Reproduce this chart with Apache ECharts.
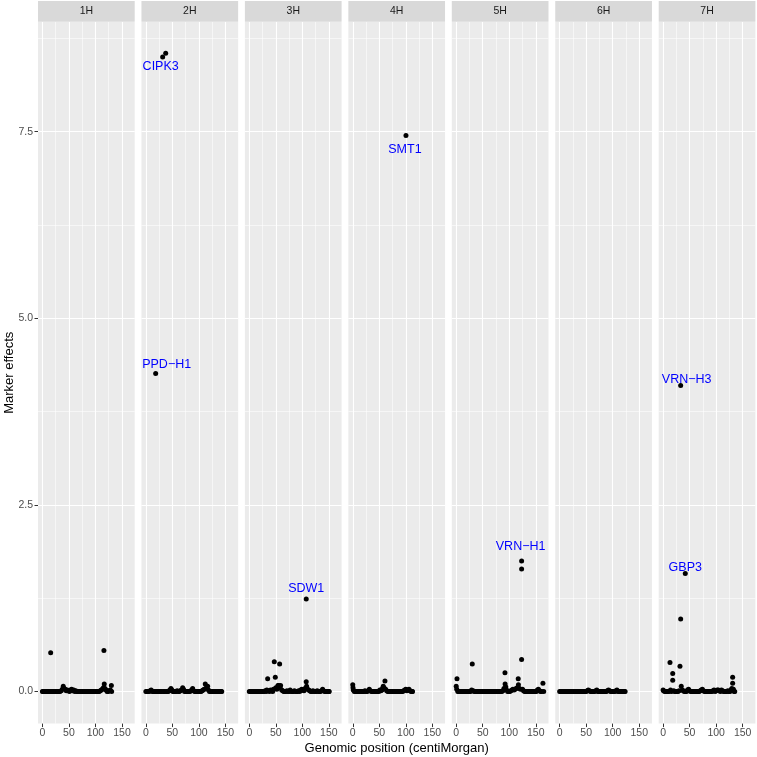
<!DOCTYPE html>
<html>
<head>
<meta charset="utf-8">
<script src="https://cdn.jsdelivr.net/npm/echarts@6/dist/echarts.min.js"></script>
<style>html,body{margin:0;padding:0;background:#fff}#chart{width:757px;height:757px}</style>
</head>
<body>
<div id="chart"></div>
<script>
// ---------------- DATA ----------------
const chromosomes = ['1H', '2H', '3H', '4H', '5H', '6H', '7H'];

// [position (cM), marker effect]
const markers1H = [[0,0],[1.5,0],[3,0],[5,0],[7,0],[9,0],[11,0],[13,0],[15.6,0.52],[16,0],[18,0],[20,0],[22,0],[24.5,0],[27,0],[29,0],[31,0],[33,0],[35.5,0.01],[37.5,0.03],[39.3,0.07],[41,0.04],[43,0.03],[45,0.01],[47,0.02],[49,0.01],[51,0],[53,0.02],[55,0.03],[57,0.01],[59,0.02],[61,0],[63,0.01],[65,0],[67,0],[69,0],[71,0],[73,0],[75,0],[77,0],[79,0],[81,0],[83,0],[85,0],[87,0],[89,0],[91,0],[93,0],[95,0],[97,0],[99,0],[101,0],[103,0],[105,0],[107,0],[109,0.01],[111,0.02],[113,0.03],[115,0.05],[116,0.55],[116.6,0.1],[118,0.04],[120,0.02],[122,0],[124,0],[126,0.01],[128,0.02],[130,0.08],[130.5,0]];
const markers2H = [[0,0],[2,0],[4,0],[6,0],[8,0.01],[10,0.02],[12,0],[14,0],[16,0],[18,0],[20,0],[22,0],[24,0],[26,0],[28,0],[30,0],[33,0],[35,0],[37.4,8.55],[38,0],[40,0],[42,0],[44,0.01],[45.5,0.02],[47.3,0.04],[49,0.02],[51,0],[53,0],[55,0],[57,0],[59,0.01],[61,0],[63,0],[65,0.01],[67,0.02],[69.4,0.05],[71,0.03],[73,0],[75,0],[77,0],[79,0],[81,0],[83,0],[85,0.01],[86.5,0.02],[88.2,0.04],[90,0.01],[92,0],[94,0],[96,0],[98,0],[100,0],[102,0],[104,0],[106,0.01],[108,0.02],[110,0.03],[112,0.1],[114,0.05],[116.5,0.07],[118,0.02],[120,0],[122,0],[124,0],[126,0],[128,0],[130,0],[132,0],[134,0],[136,0],[138,0],[140,0],[142,0],[143,0]];
const markers3H = [[0,0],[2,0],[4,0],[6,0],[8,0],[10,0],[12,0],[14,0],[16,0],[18,0],[20,0],[22,0],[24,0],[26,0],[28,0],[30,0.01],[32,0],[33,0.02],[34.6,0.17],[36,0.01],[38,0],[40,0.02],[42,0.01],[44,0],[45.5,0.03],[47.1,0.4],[49,0.19],[50,0.05],[52,0.03],[54,0.08],[55.4,0.08],[57.2,0.37],[58,0.05],[59,0.08],[61,0.02],[63,0.01],[65,0],[67,0],[69,0],[71,0.01],[73,0],[75,0],[77,0.02],[79,0],[81,0],[83,0],[85,0.01],[87,0],[89,0],[91,0],[93,0.01],[95,0],[97,0.02],[99,0.03],[101,0.02],[103,0.01],[105,0.04],[107.3,0.13],[108,0.07],[110,0.03],[112,0.02],[114,0.01],[116,0],[118,0],[120,0.01],[122,0],[124,0],[126,0],[128,0.01],[130,0],[132,0],[134,0],[136,0.01],[138.2,0.03],[140,0.01],[142,0],[144,0],[146,0],[148,0],[150,0],[150.5,0]];
const markers4H = [[0,0.09],[0.5,0.05],[1,0.02],[3,0],[5,0],[7,0],[9,0],[11,0],[13,0],[15,0],[17,0],[19,0],[21,0],[23,0.01],[25,0],[27,0],[29,0.01],[31.2,0.03],[33,0.01],[35,0],[37,0],[39,0],[41,0],[43,0],[45,0],[47,0],[49,0],[51,0.02],[53,0.01],[55,0.02],[56,0.04],[57.5,0.07],[59,0.05],[60.7,0.14],[62,0.03],[64,0.01],[66,0],[68,0],[70,0],[72,0],[74,0],[76,0],[78,0],[80,0],[82,0],[84,0],[86,0],[88,0],[90,0],[92,0],[94,0],[96,0.01],[98,0.02],[100,0.03],[102,0.01],[104,0.02],[106,0.03],[108,0.01],[110,0],[112,0],[112.6,0]];
const markers5H = [[0,0.07],[1.5,0.17],[1,0.03],[3,0],[5,0],[7,0],[9,0],[11,0],[13,0],[15,0],[17,0],[19,0],[21,0],[23,0],[25,0],[27,0],[29,0.02],[30.3,0.37],[32,0.01],[34,0],[36,0],[38,0],[40,0],[42,0],[44,0],[46,0],[48,0],[50,0],[52,0],[54,0],[56,0],[58,0],[60,0],[62,0],[64,0],[66,0],[68,0],[70,0],[72,0],[74,0],[76,0],[78,0],[80,0],[82,0],[84,0],[86,0],[88,0.01],[90,0.04],[91.9,0.25],[92.2,0.1],[93.5,0.06],[95,0.02],[97,0],[99,0],[101,0],[103,0.01],[105,0.02],[107,0.03],[109,0.02],[111,0.03],[113,0.04],[115,0.05],[116.9,0.17],[117.3,0.09],[119,0.04],[121,0.03],[123.3,0.43],[123.3,1.64],[125,0.03],[127,0.01],[129,0],[131,0],[133,0],[135,0],[137,0],[139,0],[141,0],[143,0],[145,0],[147,0],[149,0],[151,0],[153,0.02],[155,0.03],[157,0.01],[159,0],[161,0],[163.5,0.11],[165,0]];
const markers6H = [[0,0],[2,0],[4,0],[6,0],[8,0],[10,0],[12,0],[14,0],[16,0],[18,0],[20,0],[22,0],[24,0],[26,0],[28,0],[30,0],[32,0],[34,0],[36,0],[38,0],[40,0],[42,0],[44,0],[46,0],[48,0],[50,0],[52,0.01],[54,0.02],[56,0.01],[58,0],[60,0],[62,0],[64,0],[66,0],[68,0.01],[70,0.02],[72,0],[74,0],[76,0],[78,0],[80,0],[82,0],[84,0],[86,0],[88,0],[90,0.01],[92,0.02],[94,0.01],[96,0],[98,0],[100,0],[102,0],[104,0],[106,0.01],[108,0.02],[110,0],[112,0],[114,0],[116,0],[118,0],[120,0],[122,0],[123.4,0]];
const markers7H = [[0,0.02],[1,0.01],[3,0],[5,0],[7,0],[9,0],[11,0],[13,0.39],[14,0.02],[16,0],[18.1,0.24],[18.1,0.15],[20,0.01],[22,0],[24,0],[26,0],[28,0],[30,0.01],[31.8,0.34],[33.1,0.97],[34.2,0.07],[36,0.02],[38,0.01],[40,0],[42,0],[44,0],[46,0.02],[48,0.03],[50,0.01],[52,0],[54,0],[56,0],[58,0],[60,0],[62,0],[64,0],[66,0],[68,0],[70,0.01],[72,0.02],[74,0.03],[76,0.01],[78,0],[80,0],[82,0],[84,0],[86,0],[88,0],[90,0],[92,0],[94,0.01],[96,0.02],[98,0],[100,0.01],[102,0.02],[104,0.02],[106,0.01],[108,0],[110,0.02],[112,0.01],[114,0],[116,0],[118,0],[120,0],[122,0.01],[124,0],[126,0],[128,0.02],[129.5,0.04],[131.1,0.19],[131.1,0.11],[132.5,0.03],[134,0],[135,0]];

// Labelled genes
const geneNames       = ['PPD\u2212H1', 'CIPK3', 'SDW1', 'SMT1', 'VRN\u2212H1', 'VRN\u2212H3', 'GBP3'];
const geneChromosomes = ['2H', '2H', '3H', '4H', '5H', '7H', '7H'];
const genePositions   = [18.5, 31.7, 107.3, 100.3, 123.3, 33.1, 41.8];
const geneEffects     = [4.26, 8.50, 1.24, 7.45, 1.75, 4.10, 1.58];

// Axis ticks
const xTicks = [0, 50, 100, 150];
const xMinorTicks = [25, 75, 125, 175];
const yTicks = [0, 2.5, 5, 7.5];
const yTickLabels = ['0.0', '2.5', '5.0', '7.5'];
const yMinorTicks = [1.25, 3.75, 6.25, 8.75];

// ---------------- STYLE / LAYOUT ----------------
const FONT = '"Liberation Sans", Arial, Helvetica, sans-serif';
const X_MIN = -8.3, X_MAX = 174;
const Y_MIN = -0.43, Y_MAX = 8.97;
const L0 = 38, STEP = 103.45, PW = 96.7, PT = 22, PH = 701.6;
const STRIP_TOP = 1, STRIP_H = 20.7;
const labelOffsets = {
  'PPD\u2212H1': [11, -9], 'CIPK3': [-2, 9], 'SDW1': [0, -10], 'SMT1': [-1, 14],
  'VRN\u2212H1': [-1, -14], 'VRN\u2212H3': [6, -6], 'GBP3': [0, -6]
};

const markerSets = [markers1H, markers2H, markers3H, markers4H, markers5H, markers6H, markers7H];

const grids = [], xAxes = [], yAxes = [], series = [], graphics = [];

chromosomes.forEach((chr, i) => {
  const left = L0 + i * STEP;
  grids.push({ left: left, top: PT, width: PW, height: PH, show: true,
    backgroundColor: '#EBEBEB', borderWidth: 0, containLabel: false, outerBoundsMode: 'none' });

  // major x axis
  xAxes.push({ type: 'value', gridIndex: i, min: X_MIN, max: X_MAX, position: 'bottom',
    axisLine: { show: false, onZero: false },
    axisTick: { show: true, customValues: xTicks, length: 3.5, lineStyle: { color: '#333333', width: 1 } },
    axisLabel: { show: true, customValues: xTicks, color: '#4D4D4D', fontSize: 10.5, margin: 4, fontFamily: FONT },
    splitLine: { show: true, lineStyle: { color: '#FFFFFF', width: 1.1 } } });
  // minor x axis
  xAxes.push({ type: 'value', gridIndex: i, min: X_MIN, max: X_MAX, position: 'top',
    axisLine: { show: false, onZero: false },
    axisTick: { show: false, customValues: xMinorTicks },
    axisLabel: { show: false, customValues: xMinorTicks },
    splitLine: { show: true, lineStyle: { color: '#FFFFFF', width: 0.55 } } });

  // major y axis
  yAxes.push({ type: 'value', gridIndex: i, min: Y_MIN, max: Y_MAX, position: 'left',
    axisLine: { show: false, onZero: false },
    axisTick: { show: i === 0, customValues: yTicks, length: 3.5, lineStyle: { color: '#333333', width: 1 } },
    axisLabel: { show: i === 0, customValues: yTicks, color: '#4D4D4D', fontSize: 10.5, margin: 5, fontFamily: FONT,
      formatter: v => yTickLabels[yTicks.indexOf(v)] !== undefined ? yTickLabels[yTicks.indexOf(v)] : v.toFixed(1) },
    splitLine: { show: true, lineStyle: { color: '#FFFFFF', width: 1.1 } } });
  // minor y axis
  yAxes.push({ type: 'value', gridIndex: i, min: Y_MIN, max: Y_MAX, position: 'right',
    axisLine: { show: false, onZero: false },
    axisTick: { show: false, customValues: yMinorTicks },
    axisLabel: { show: false, customValues: yMinorTicks },
    splitLine: { show: true, lineStyle: { color: '#FFFFFF', width: 0.55 } } });

  series.push({ type: 'scatter', name: chr, xAxisIndex: 2 * i, yAxisIndex: 2 * i,
    data: markerSets[i], symbol: 'circle', symbolSize: 5,
    itemStyle: { color: '#000000', opacity: 1 }, emphasis: { disabled: true }, silent: true, z: 3 });

  const geneData = [];
  geneNames.forEach((g, k) => {
    if (geneChromosomes[k] === chr) {
      geneData.push({ name: g, value: [genePositions[k], geneEffects[k]],
        label: { offset: labelOffsets[g] } });
    }
  });
  if (geneData.length) {
    series.push({ type: 'scatter', name: chr + ' genes', xAxisIndex: 2 * i, yAxisIndex: 2 * i,
      data: geneData, symbol: 'circle', symbolSize: 5,
      itemStyle: { color: '#000000', opacity: 1 }, emphasis: { disabled: true }, silent: true, z: 4,
      label: { show: true, position: 'inside', formatter: p => p.name, color: '#0000FF',
        fontSize: 12.5, fontFamily: FONT } });
  }

  // facet strip
  graphics.push({ type: 'rect', shape: { x: left, y: STRIP_TOP, width: PW, height: STRIP_H },
    style: { fill: '#D9D9D9' }, silent: true });
  graphics.push({ type: 'text', x: left + PW / 2, y: STRIP_TOP + STRIP_H / 2,
    style: { text: chr, fill: '#1A1A1A', font: '10.5px ' + FONT, align: 'center', verticalAlign: 'middle',
      textAlign: 'center', textVerticalAlign: 'middle' }, silent: true });
});

// axis titles
const panelsRight = L0 + 6 * STEP + PW;
graphics.push({ type: 'text', x: (L0 + panelsRight) / 2, y: 748,
  style: { text: 'Genomic position (centiMorgan)', fill: '#000000', font: '13px ' + FONT,
    align: 'center', verticalAlign: 'middle', textAlign: 'center', textVerticalAlign: 'middle' }, silent: true });
graphics.push({ type: 'text', x: 9, y: PT + PH / 2, rotation: Math.PI / 2,
  style: { text: 'Marker effects', fill: '#000000', font: '13px ' + FONT,
    align: 'center', verticalAlign: 'middle', textAlign: 'center', textVerticalAlign: 'middle' }, silent: true });

const chart = echarts.init(document.getElementById('chart'), null, { renderer: 'canvas' });
chart.setOption({
  animation: false,
  backgroundColor: '#FFFFFF',
  textStyle: { fontFamily: FONT },
  grid: grids,
  xAxis: xAxes,
  yAxis: yAxes,
  series: series,
  graphic: graphics
});
</script>
</body>
</html>
